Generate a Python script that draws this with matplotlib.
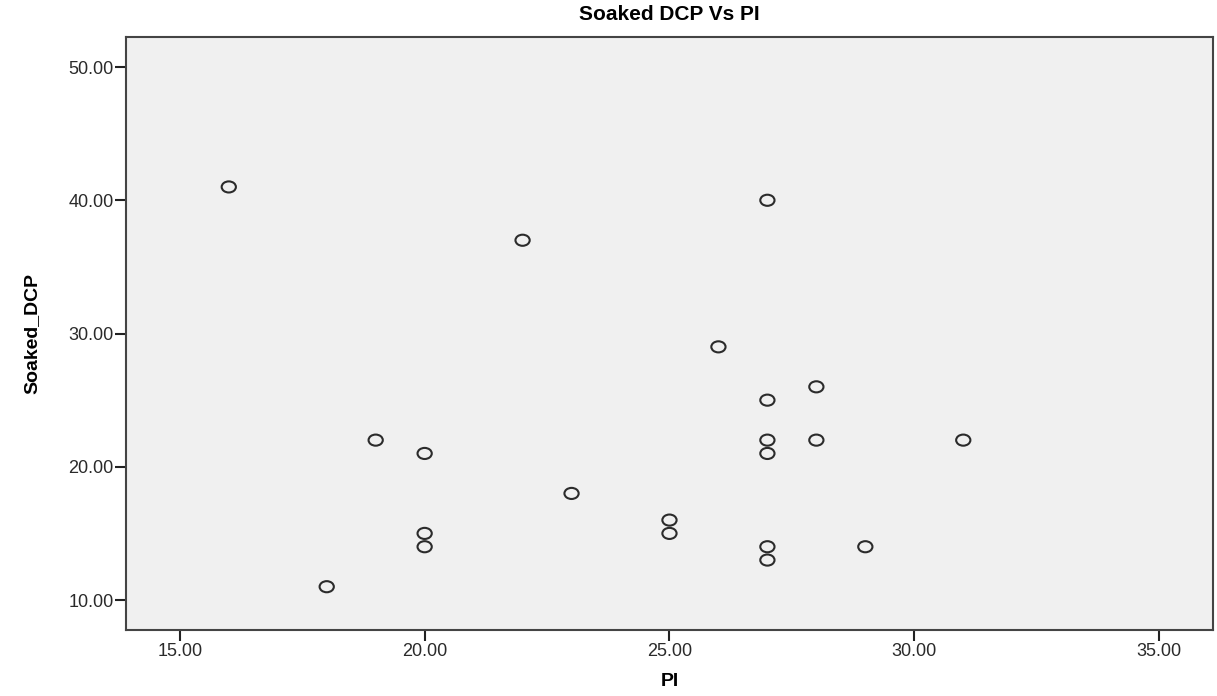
import matplotlib
matplotlib.use("Agg")
import matplotlib.pyplot as plt
from matplotlib.path import Path
from matplotlib.transforms import Affine2D

# PI vs Soaked DCP readings
pi = [16, 27, 22, 26, 28, 27, 19, 27, 28, 31, 20, 27, 23, 25, 20, 25, 20, 27, 29, 27, 18]
soaked_dcp = [41, 40, 37, 29, 26, 25, 22, 22, 22, 22, 21, 21, 18, 16, 15, 15, 14, 14, 14, 13, 11]
xticks = [15, 20, 25, 30, 35]
yticks = [10, 20, 30, 40, 50]

plt.rcParams['font.family'] = ['Liberation Sans', 'DejaVu Sans']

# SPSS draws slightly wide open circles
oval = Path.unit_circle().transformed(Affine2D().scale(1.0, 0.78))

fig = plt.figure(figsize=(12.17, 6.96), dpi=100)
ax = fig.add_axes([0.1035, 0.0948, 0.8932, 0.852])
ax.set_facecolor('#f0f0f0')

ax.scatter(pi, soaked_dcp, marker=oval, s=105, facecolors='none',
           edgecolors='#2b2b2b', linewidths=1.5, zorder=3)

ax.set_xlim(13.9, 36.1)
ax.set_ylim(7.75, 52.25)
ax.set_xticks(xticks)
ax.set_yticks(yticks)
ax.set_xticklabels([f"{v:.2f}" for v in xticks])
ax.set_yticklabels([f"{v:.2f}" for v in yticks])
ax.tick_params(axis='both', labelsize=13, length=8, width=1.5, color='#222222',
               labelcolor='#2a2a2a', pad=1)

for s in ax.spines.values():
    s.set_color('#444444')
    s.set_linewidth(1.5)

ax.set_title("Soaked DCP Vs PI", fontsize=15, fontweight='bold', pad=12)
ax.set_xlabel("PI", fontsize=14, fontweight='bold', labelpad=10)
ax.set_ylabel("Soaked_DCP", fontsize=14, fontweight='bold', labelpad=20)

fig.savefig("out.png", dpi=100, facecolor='white')
plt.close(fig)
